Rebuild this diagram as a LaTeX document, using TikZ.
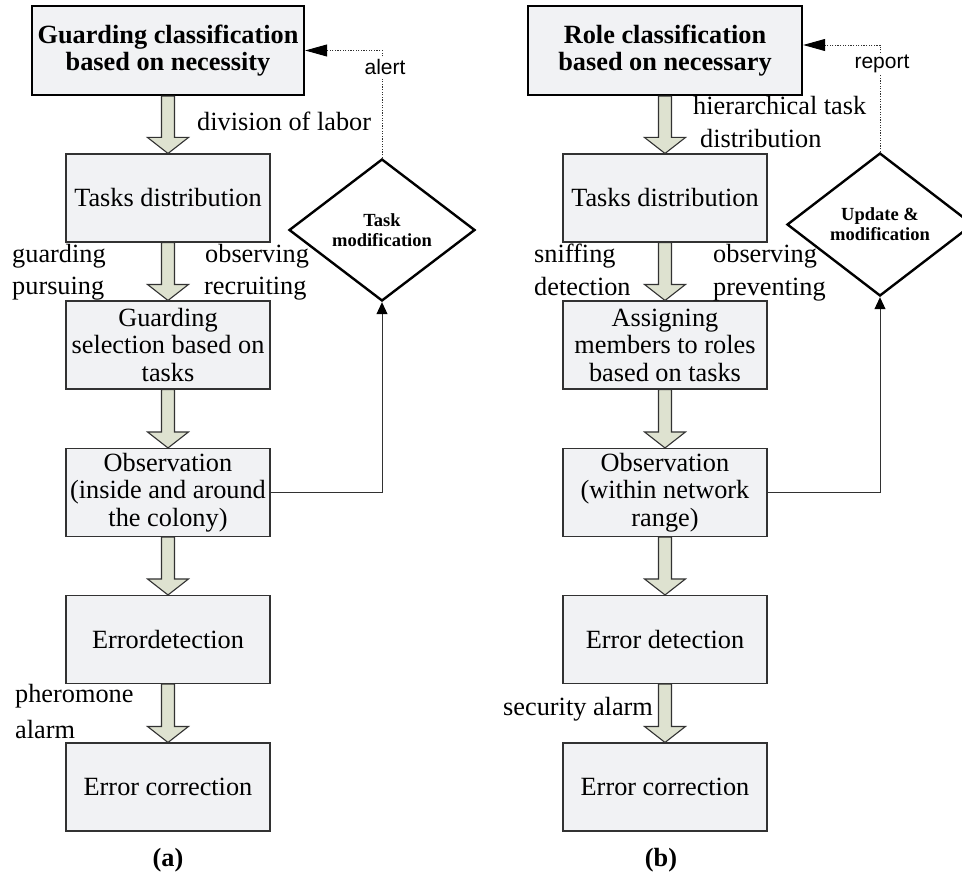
\documentclass[tikz,border=0pt]{standalone}
\usepackage{fontspec}
\setmainfont{Liberation Serif}
\newfontfamily\labelsans{Liberation Sans}
\usetikzlibrary{shapes.geometric,arrows.meta,calc}
\definecolor{boxfill}{RGB}{241,242,244}
\definecolor{arrfill}{RGB}{222,226,208}
\definecolor{edgecol}{RGB}{50,50,50}
\newcommand\blockarrowdraw[2]{%
  \draw[blockarr] ($(#1.south)+(-6.5,0)$) -- ($(#2.north)+(-6.5,-16)$) -- ($(#2.north)+(-20.5,-16)$)
    -- (#2.north) -- ($(#2.north)+(20.5,-16)$) -- ($(#2.north)+(6.5,-16)$) -- ($(#1.south)+(6.5,0)$) -- cycle;}
\begin{document}
\begin{tikzpicture}[x=1pt,y=-1pt,font=\fontsize{26.3}{27.5}\selectfont,
  box/.style={draw=edgecol, line width=1.1pt, fill=boxfill, minimum width=204pt, minimum height=88pt, align=center, inner sep=2pt},
  topbox/.style={box, draw=black, line width=2.4pt, minimum width=272pt, minimum height=89pt, font=\fontsize{26.3}{26.5}\selectfont\bfseries},
  decision/.style={diamond, draw=black, line width=2.4pt, fill=white, minimum width=186pt, minimum height=142pt, inner sep=0pt, aspect=1.3, align=center, font=\fontsize{18.5}{20}\selectfont\bfseries},
  blockarr/.style={draw=edgecol, line width=1.1pt, fill=arrfill, line join=miter},
  lbl/.style={anchor=base west, inner sep=0pt},
  feedback/.style={draw=edgecol, line width=0.9pt, dash pattern=on 1.2pt off 1.4pt, -{Triangle[length=22pt,width=12pt,color=black]}},
  update/.style={draw=edgecol, line width=0.9pt, -{Triangle[length=12pt,width=11pt,color=black]}},
  tag/.style={font=\fontsize{21}{22}\selectfont\labelsans, fill=white, inner sep=2pt, anchor=base},
  caption/.style={anchor=base, inner sep=0pt, font=\fontsize{26.3}{27}\selectfont\bfseries}]
\clip (0,0) rectangle (962,872);
\fill[white] (0,0) rectangle (962,872);
% ---------- left panel ----------
\node[topbox] (topL) at (168,50.5) {Guarding classification\\based on necessity};
\node[box] (tdL) at (168,198) {Tasks distribution};
\node[box] (gsL) at (168,345) {Guarding\\selection based on\\tasks};
\node[box] (obL) at (168,492.5) {Observation\\(inside and around\\the colony)};
\node[box] (edL) at (168,639.5) {Errordetection};
\node[box] (ecL) at (168,787) {Error correction};
\node[decision] (diaL) at (382,230) {Task\\modification};
\blockarrowdraw{topL}{tdL}
\blockarrowdraw{tdL}{gsL}
\blockarrowdraw{gsL}{obL}
\blockarrowdraw{obL}{edL}
\blockarrowdraw{edL}{ecL}
\draw[feedback] (diaL.north) |- (topL.east);
\node[tag] (alertL) at (385,75) {alert};
\draw[update] (obL.east) -| (diaL.south);
\node[lbl] (l1) at (197,131) {division of labor};
\node[lbl] (l2) at (12,262) {guarding};
\node[lbl] (l3) at (12,294) {pursuing};
\node[lbl] (l4) at (205,262) {observing};
\node[lbl] (l5) at (204,294) {recruiting};
\node[lbl] (l6) at (15,702) {pheromone};
\node[lbl] (l7) at (15,738) {alarm};
\node[caption] (capA) at (168,866) {(a)};
% ---------- right panel ----------
\node[topbox, minimum width=274pt] (topR) at (665,50.5) {Role classification\\based on necessary};
\node[box] (tdR) at (665,198) {Tasks distribution};
\node[box] (asR) at (665,345) {Assigning\\members to roles\\based on tasks};
\node[box] (obR) at (665,492.5) {Observation\\(within network\\range)};
\node[box] (edR) at (665,639.5) {Error detection};
\node[box] (ecR) at (665,787) {Error correction};
\node[decision, minimum height=143pt] (diaR) at (880,224.5) {Update \&\\modification};
\blockarrowdraw{topR}{tdR}
\blockarrowdraw{tdR}{asR}
\blockarrowdraw{asR}{obR}
\blockarrowdraw{obR}{edR}
\blockarrowdraw{edR}{ecR}
\draw[feedback] (diaR.north) |- ([yshift=5.5pt]topR.east);
\node[tag] (reportR) at (882,69) {report};
\draw[update] (obR.east) -| (diaR.south);
\node[lbl] (r1) at (693,115) {hierarchical task};
\node[lbl] (r2) at (700,148) {distribution};
\node[lbl] (r3) at (534,262) {sniffing};
\node[lbl] (r4) at (534,295) {detection};
\node[lbl] (r5) at (713,262) {observing};
\node[lbl] (r6) at (713,295) {preventing};
\node[lbl] (r7) at (503,715) {security alarm};
\node[caption] (capB) at (661,866) {(b)};
\end{tikzpicture}
\end{document}
